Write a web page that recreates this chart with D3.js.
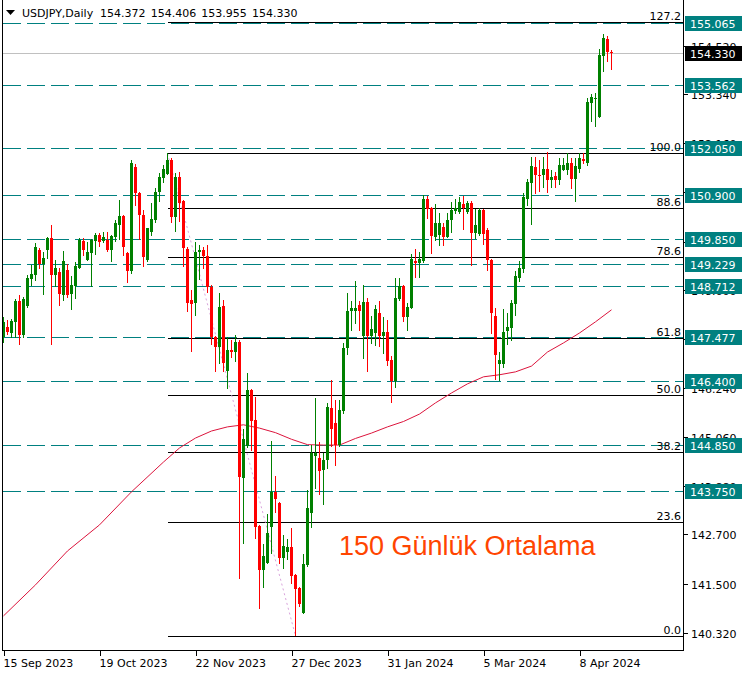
<!DOCTYPE html>
<html><head><meta charset="utf-8">
<script src="https://cdn.jsdelivr.net/npm/d3@7/dist/d3.min.js"></script>
<style>
body{margin:0;background:#fff}
svg{display:block}
text{font-family:"DejaVu Sans",sans-serif;font-size:11px}
</style>
</head><body>
<svg id="chart" width="747" height="675"></svg>
<script>
// ---------------- data ----------------
const symbolTitle = "USDJPY,Daily";
const headerValues = ["154.372", "154.406", "153.955", "154.330"];
const dateLabels = ["15 Sep 2023", "19 Oct 2023", "22 Nov 2023", "27 Dec 2023", "31 Jan 2024", "5 Mar 2024", "8 Apr 2024"];
const dateLabelBars = [0, 24, 48, 72, 96, 120, 144];
const priceTickLabels = ["140.320", "141.500", "142.700", "143.880", "145.060", "146.240", "147.420", "148.600", "149.780", "150.980", "152.160", "153.340", "154.520"];

const opens = [147.48,147.71,147.58,147.84,148.34,147.51,148.22,148.88,148.98,149.58,149.25,149.58,149.86,148.97,149.04,148.49,149.09,148.51,148.71,149.15,
149.79,149.33,149.50,149.79,149.93,149.79,149.82,149.58,149.90,150.18,150.40,149.50,149.07,151.59,150.96,150.42,149.33,150.01,150.30,150.99,
151.31,151.41,151.75,150.38,151.33,150.76,149.60,148.37,148.29,149.54,149.58,149.42,148.69,147.48,147.24,148.23,146.66,147.16,147.12,147.34,
144.07,144.84,146.18,145.47,142.91,141.84,142.02,142.89,143.73,143.47,142.12,142.27,142.40,141.72,141.40,140.81,141.96,143.21,144.60,144.54,
144.26,144.50,145.76,145.39,144.86,145.69,147.20,148.10,148.10,148.25,147.50,148.31,147.50,147.56,148.05,147.50,147.59,146.92,146.41,148.39,
148.71,147.95,148.18,149.31,149.27,149.31,150.81,150.58,149.90,149.94,150.14,149.90,150.30,150.52,150.49,150.69,150.49,150.72,149.98,149.96,
150.54,150.06,149.34,147.98,146.83,146.83,147.62,147.70,148.27,148.91,149.11,150.81,151.19,151.58,151.40,151.38,151.54,151.27,151.36,151.27,
151.52,151.52,151.68,151.30,151.54,151.77,151.69,153.14,153.23,152.79,154.26,154.67,154.372];
const highs = [147.96,147.88,147.92,148.38,148.49,148.45,148.96,149.21,149.74,149.62,149.52,149.90,150.18,149.33,149.15,149.55,149.25,148.95,149.29,149.86,
149.86,149.76,149.84,149.98,149.98,150.02,150.00,149.94,150.30,150.78,150.42,149.54,151.75,151.66,150.99,150.54,150.12,150.71,151.07,151.43,
151.63,151.91,151.79,151.43,151.47,150.79,149.66,148.61,149.78,149.70,149.64,149.70,148.72,147.50,148.53,148.37,147.47,147.40,147.52,147.40,
145.26,146.61,146.21,146.03,142.93,142.47,143.19,144.96,144.11,143.49,142.69,142.60,142.86,141.74,141.42,142.23,143.77,144.86,146.01,144.94,
144.66,145.87,146.43,145.95,145.95,147.32,148.53,148.35,148.83,148.35,148.73,148.41,147.98,148.25,148.35,147.96,147.88,147.02,148.89,148.89,
148.73,148.29,149.47,149.60,149.52,150.91,150.87,150.62,150.69,150.46,150.22,150.46,150.73,150.80,150.85,150.88,150.75,150.75,150.56,150.60,
150.57,150.10,149.35,148.17,147.10,148.15,148.05,148.37,149.06,149.31,150.96,151.30,151.83,151.83,151.75,151.83,151.95,151.50,151.46,151.79,
151.79,151.93,151.79,151.80,151.93,151.91,153.26,153.34,153.38,154.44,154.79,154.75,154.406];
const lows = [147.34,147.55,147.48,147.48,147.30,147.48,148.21,148.72,148.85,149.15,148.51,149.39,147.30,148.71,148.25,148.37,148.45,148.15,148.42,149.13,
149.46,149.33,148.71,149.48,149.67,149.78,149.55,149.32,149.79,149.84,149.46,148.81,149.03,150.66,149.84,149.20,149.32,149.94,150.26,150.77,
151.23,151.41,150.26,150.04,150.28,149.20,148.11,147.14,148.00,148.88,149.13,148.55,147.30,146.66,146.85,146.66,146.23,147.00,146.90,141.64,
142.50,144.82,144.74,142.62,140.93,141.44,142.00,142.24,143.25,142.00,141.88,142.10,141.52,140.27,140.97,140.80,141.94,142.87,143.81,143.68,
143.43,144.31,144.84,144.38,144.84,145.63,147.05,147.64,147.80,147.64,146.96,146.66,147.32,147.28,147.26,147.09,146.80,145.89,146.27,148.37,
147.87,147.64,148.17,148.93,148.93,149.29,150.34,149.51,149.83,149.70,149.70,149.88,150.00,150.46,150.46,150.08,150.46,149.21,149.86,149.94,
149.71,149.09,147.58,146.46,146.44,146.74,147.30,147.41,148.00,148.82,149.05,150.66,150.20,150.96,151.01,151.09,150.97,151.09,151.11,151.18,
151.50,151.42,151.08,150.77,151.46,151.67,151.64,152.70,152.58,152.79,153.90,154.14,153.955];
const closes = [147.84,147.59,147.86,148.34,147.52,148.39,148.91,149.00,149.66,149.25,149.38,149.87,148.97,149.13,148.51,149.31,148.49,148.72,149.19,149.82,
149.58,149.53,149.82,149.93,149.77,149.88,149.58,149.92,150.22,150.40,149.66,149.07,151.67,150.95,150.42,149.40,150.10,150.33,150.99,151.33,
151.54,151.75,150.38,151.35,150.72,149.63,148.30,148.27,149.54,149.58,149.42,148.67,147.48,147.24,148.21,146.84,147.16,147.11,147.34,144.10,
145.01,146.18,145.44,142.89,141.84,142.18,142.74,143.72,143.55,142.12,142.42,142.39,141.69,141.37,141.01,141.98,143.33,144.66,144.66,144.24,
144.50,145.79,145.24,144.86,145.71,147.21,148.10,148.18,148.18,148.10,148.31,147.50,147.67,148.15,147.50,147.60,146.90,146.41,148.42,148.71,
147.95,148.21,149.36,149.27,149.36,150.81,150.56,149.92,150.22,150.22,149.90,150.30,150.54,150.58,150.73,150.58,150.71,149.98,150.17,150.54,
149.96,149.34,148.06,147.04,146.91,147.60,147.72,148.30,148.94,149.13,150.86,151.22,151.60,151.38,151.38,151.54,151.27,151.34,151.27,151.63,
151.64,151.68,151.30,151.61,151.79,151.72,153.15,153.28,153.26,154.30,154.71,154.36,154.330];

// 150-day moving average, read at sampled bars
const maBars = [0,8,16,24,32,40,44,48,52,56,60,64,68,72,76,80,84,88,92,96,100,104,108,112,116,120,124,128,132,136,140,144,148,152];
const maValues = [140.73,141.48,142.30,142.93,143.73,144.45,144.79,145.03,145.20,145.30,145.35,145.27,145.16,145.00,144.87,144.86,144.86,145.02,145.15,145.30,
145.43,145.61,145.88,146.12,146.34,146.51,146.56,146.63,146.77,147.11,147.33,147.57,147.84,148.13];

// horizontal support/resistance levels
const levelPrices = [155.065,153.562,152.050,150.900,149.850,149.229,148.712,147.477,146.400,144.850,143.750];
const currentPrice = 154.330;

// Fibonacci retracement
const fibLow = 140.25, fibHigh = 151.91;
const fibLowBar = 73, fibHighBar = 41;
const fibRatios = [0, 23.6, 38.2, 50.0, 61.8, 78.6, 88.6, 100.0, 127.2];

const annotationText = "150 Günlük Ortalama";

// ---------------- drawing ----------------
const svg = d3.select("#chart");
const W = 747, H = 675;
const plotL = 2, plotR = 683, plotT = 0, plotB = 650;

svg.append("rect").attr("width", W).attr("height", H).attr("fill", "#fff");

const x = d3.scaleLinear().domain([0, 152]).range([3.5, 3.5 + 4 * 152]);
const y = d3.scaleLinear().domain([139.881, 155.621]).range([651, 0]);
const yr = p => Math.round(y(p)) + 0.5;

svg.append("defs").append("clipPath").attr("id", "plotclip")
  .append("rect").attr("x", plotL + 1).attr("y", plotT).attr("width", plotR - plotL - 1).attr("height", plotB - plotT);

const plot = svg.append("g").attr("clip-path", "url(#plotclip)");

// teal dashed levels
plot.selectAll("line.lvl").data(levelPrices).join("line")
  .attr("x1", plotL + 1).attr("x2", plotR)
  .attr("y1", d => yr(d)).attr("y2", d => yr(d))
  .attr("stroke", "#008080").attr("stroke-width", 1)
  .attr("stroke-dasharray", "18,6").attr("shape-rendering", "crispEdges");

// current price gray line
plot.append("line").attr("x1", plotL).attr("x2", plotR)
  .attr("y1", yr(currentPrice)).attr("y2", yr(currentPrice))
  .attr("stroke", "#c0c0c0").attr("shape-rendering", "crispEdges");

// fib lines
const fibPrice = r => fibLow + (fibHigh - fibLow) * r / 100;
const fibX0 = Math.round(x(fibHighBar)) - 0.5;
plot.selectAll("line.fib").data(fibRatios).join("line")
  .attr("x1", fibX0).attr("x2", plotR)
  .attr("y1", d => yr(fibPrice(d))).attr("y2", d => yr(fibPrice(d)))
  .attr("stroke", "#000").attr("stroke-width", 1).attr("shape-rendering", "crispEdges");
plot.selectAll("text.fib").data(fibRatios).join("text")
  .attr("x", plotR - 2).attr("y", d => yr(fibPrice(d)) - 2.5)
  .attr("text-anchor", "end").attr("fill", "#000")
  .text(d => d.toFixed(1));

// fib trend (dotted)
plot.append("line")
  .attr("x1", x(fibHighBar)).attr("y1", y(fibHigh))
  .attr("x2", x(fibLowBar)).attr("y2", y(fibLow))
  .attr("stroke", "#d9a3dc").attr("stroke-width", 1).attr("stroke-dasharray", "2,3");

// moving average
const maLine = d3.line().x((d, i) => x(maBars[i])).y(d => y(d));
plot.append("path").attr("d", maLine(maValues))
  .attr("fill", "none").attr("stroke", "#dc143c").attr("stroke-width", 1);

// candles
const idx = d3.range(opens.length);
const up = i => closes[i] >= opens[i];
const col = i => up(i) ? "#008000" : "#ff0000";
plot.selectAll("line.wick").data(idx).join("line")
  .attr("x1", i => x(i)).attr("x2", i => x(i))
  .attr("y1", i => Math.round(y(highs[i]))).attr("y2", i => Math.round(y(lows[i])) + 1)
  .attr("stroke", col).attr("stroke-width", 1).attr("shape-rendering", "crispEdges");
plot.selectAll("rect.body").data(idx).join("rect")
  .attr("x", i => x(i) - 1.5).attr("width", 3)
  .attr("y", i => Math.round(y(Math.max(opens[i], closes[i]))))
  .attr("height", i => Math.max(1, Math.round(y(Math.min(opens[i], closes[i]))) - Math.round(y(Math.max(opens[i], closes[i])))))
  .attr("fill", col).attr("shape-rendering", "crispEdges");

// annotation
svg.append("text").attr("x", 339).attr("y", 555)
  .style("font-family", "'Liberation Sans', Arial, sans-serif").style("font-size", "27px")
  .attr("fill", "#ff4500").text(annotationText);

// frame
svg.append("path")
  .attr("d", `M${plotL + 0.5},0 V${plotB + 0.5} H${plotR + 0.5} V0`)
  .attr("fill", "none").attr("stroke", "#000").attr("shape-rendering", "crispEdges");

// right price axis
const ax = svg.append("g");
priceTickLabels.forEach(t => {
  const v = +t, yy = yr(v);
  ax.append("line").attr("x1", plotR + 1).attr("x2", plotR + 5).attr("y1", yy).attr("y2", yy)
    .attr("stroke", "#000").attr("shape-rendering", "crispEdges");
  ax.append("text").attr("x", plotR + 8).attr("y", yy + 4).attr("fill", "#000").text(t);
});

// level boxes
levelPrices.forEach(p => {
  const yy = y(p);
  ax.append("rect").attr("x", plotR + 2).attr("y", Math.round(yy) - 7).attr("width", 57).attr("height", 15)
    .attr("fill", "#008080");
  ax.append("text").attr("x", plotR + 7).attr("y", Math.round(yy) + 4.5).attr("fill", "#fff").text(p.toFixed(3));
});
{
  const yy = y(currentPrice);
  ax.append("rect").attr("x", plotR + 2).attr("y", Math.round(yy) - 7).attr("width", 57).attr("height", 15)
    .attr("fill", "#000");
  ax.append("text").attr("x", plotR + 7).attr("y", Math.round(yy) + 4.5).attr("fill", "#fff").text(currentPrice.toFixed(3));
}

// bottom time axis
dateLabels.forEach((lab, k) => {
  const xx = Math.round(x(dateLabelBars[k])) + 0.5;
  svg.append("line").attr("x1", xx).attr("x2", xx).attr("y1", plotB + 1).attr("y2", plotB + 6)
    .attr("stroke", "#000").attr("shape-rendering", "crispEdges");
  svg.append("text").attr("x", xx - 1).attr("y", 667).attr("fill", "#000").text(lab);
});

// header
svg.append("path").attr("d", "M6,10 L15,10 L10.5,15 Z").attr("fill", "#000");
svg.append("text").attr("x", 22).attr("y", 17).attr("fill", "#000").text(symbolTitle);
const hx = [100, 150.7, 201.3, 252];
headerValues.forEach((v, k) => svg.append("text").attr("x", hx[k]).attr("y", 17).attr("fill", "#000").text(v));
</script>
</body></html>
